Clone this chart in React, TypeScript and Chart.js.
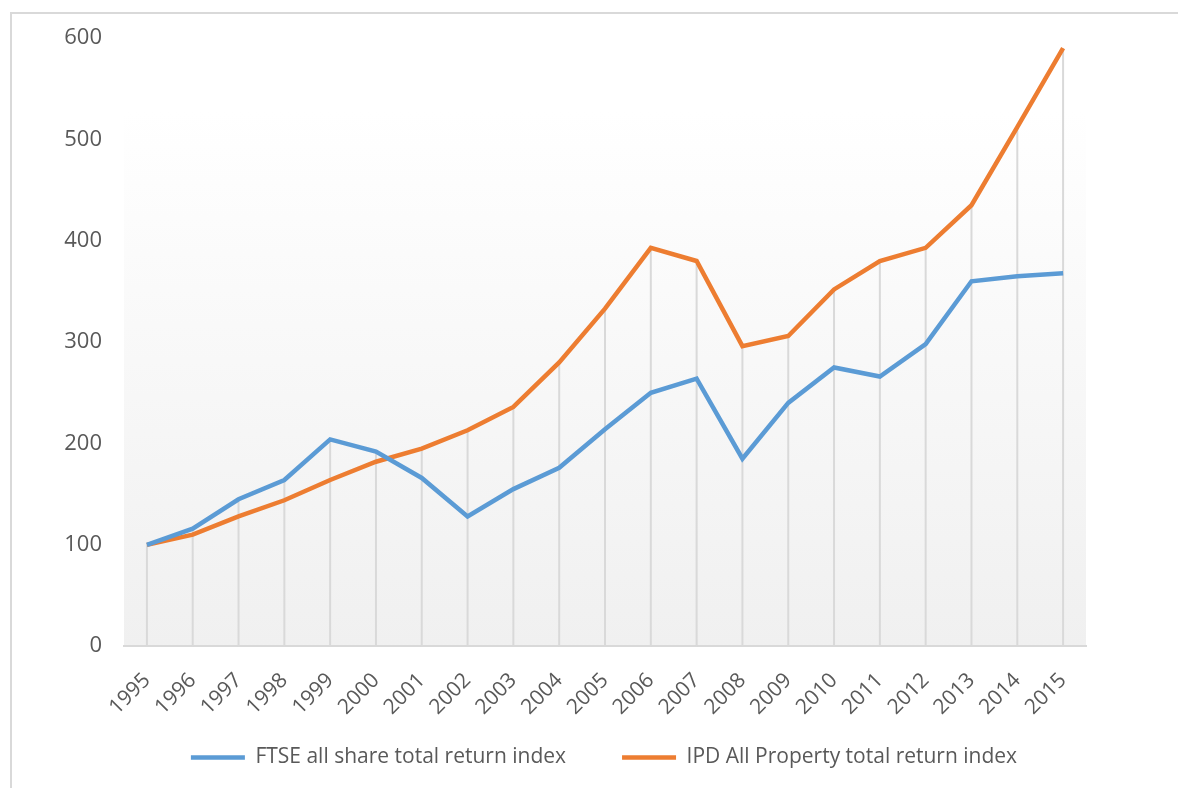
import React, { useEffect, useRef } from "react";
import { Chart, registerables } from "chart.js";

Chart.register(...registerables);

const years = ["1995","1996","1997","1998","1999","2000","2001","2002","2003","2004","2005","2006","2007","2008","2009","2010","2011","2012","2013","2014","2015"];
const ftseValues = [100,116,145,164,204,192,166,128,155,176,214,250,264,185,240,275,266,298,360,365,368];
const ipdValues = [100,110,128,144,164,182,195,213,236,280,333,393,380,296,306,352,380,393,435,512,590];
const seriesNames = ["FTSE all share total return index", "IPD All Property total return index"];
const yTicks = [0, 100, 200, 300, 400, 500, 600];

const FONT = "'Open Sans', 'Liberation Sans', sans-serif";

const bgPlugin = {
  id: "plotBg",
  beforeDraw(chart: any) {
    const { ctx, chartArea } = chart;
    if (!chartArea) return;
    // let x labels overflow into the legend's padding area
    if (chart.scales.x) chart.scales.x._computeLabelArea = () => undefined;
    const g = ctx.createLinearGradient(0, chartArea.top, 0, chartArea.bottom);
    g.addColorStop(0, "#ffffff");
    g.addColorStop(0.12, "#ffffff");
    g.addColorStop(1, "#f0f0f0");
    ctx.save();
    ctx.fillStyle = g;
    ctx.fillRect(chartArea.left, chartArea.top, chartArea.right - chartArea.left, chartArea.bottom - chartArea.top);
    ctx.restore();
  },
};

const dropLinePlugin = {
  id: "dropLines",
  beforeDatasetsDraw(chart: any) {
    const { ctx, scales } = chart;
    const x = scales.x;
    const y = scales.y;
    ctx.save();
    ctx.strokeStyle = "#d9d9d9";
    ctx.lineWidth = 2;
    years.forEach((_, i) => {
      const top = Math.max(ftseValues[i], ipdValues[i]);
      const px = x.getPixelForValue(i);
      ctx.beginPath();
      ctx.moveTo(px, y.getPixelForValue(top));
      ctx.lineTo(px, y.getPixelForValue(0));
      ctx.stroke();
    });
    ctx.restore();
  },
};

export default function App() {
  const ref = useRef<HTMLCanvasElement | null>(null);
  useEffect(() => {
    if (!ref.current) return;
    const chart = new Chart(ref.current, {
      type: "line",
      data: {
        labels: years,
        datasets: [
          {
            label: seriesNames[0],
            data: ftseValues,
            borderColor: "#5b9bd5",
            backgroundColor: "#5b9bd5",
            borderWidth: 4.5,
            pointRadius: 0,
            tension: 0,
          },
          {
            label: seriesNames[1],
            data: ipdValues,
            borderColor: "#ed7d31",
            backgroundColor: "#ed7d31",
            borderWidth: 4.5,
            pointRadius: 0,
            tension: 0,
          },
        ],
      },
      options: {
        animation: false,
        responsive: false,
        maintainAspectRatio: false,
        layout: { padding: { left: 30, right: 0, top: 38, bottom: 10 } },
        plugins: {
          tooltip: { enabled: false },
          legend: {
            position: "bottom",
            labels: {
              usePointStyle: true,
              pointStyle: "line",
              pointStyleWidth: 54,
              color: "#595959",
              font: { family: FONT, size: 21 },
              padding: 56,
            },
          },
        },
        scales: {
          x: {
            offset: true,
            afterFit(scale: any) {
              scale.height = scale.height - 51;
            },
            grid: { display: false, drawTicks: false, offset: false },
            border: { display: true, color: "#d9d9d9", width: 2 },
            ticks: {
              color: "#595959",
              font: { family: FONT, size: 21 },
              maxRotation: 45,
              minRotation: 45,
              padding: 22,
              autoSkip: false,
            },
          },
          y: {
            min: 0,
            max: 600,
            afterBuildTicks(scale: any) {
              scale.ticks = yTicks.map((v) => ({ value: v }));
            },
            afterFit(scale: any) {
              scale.width = 94;
            },
            grid: { display: false, drawTicks: false },
            border: { display: false },
            ticks: {
              color: "#595959",
              font: { family: FONT, size: 22 },
              padding: 22,
            },
          },
          yRight: {
            position: "right",
            display: true,
            afterFit(scale: any) {
              scale.width = 92;
            },
            grid: { display: false, drawTicks: false },
            border: { display: false },
            ticks: { display: false },
          },
        },
      },
      plugins: [bgPlugin, dropLinePlugin],
    });
    return () => chart.destroy();
  }, []);

  return (
    <div style={{ position: "fixed", left: 0, top: 0, width: 1178, height: 788, background: "#fff" }}>
      <div
        style={{
          position: "absolute",
          left: 10,
          top: 12,
          right: 0,
          bottom: 0,
          borderTop: "2px solid #d9d9d9",
          borderLeft: "2px solid #d9d9d9",
        }}
      />
      <canvas ref={ref} width={1178} height={788} style={{ position: "absolute", left: 0, top: 0 }} />
    </div>
  );
}
